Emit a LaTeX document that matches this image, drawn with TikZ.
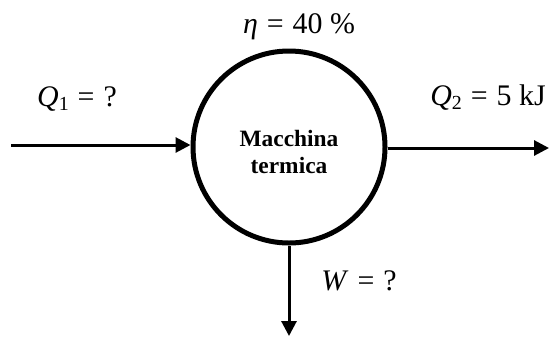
\documentclass[tikz,border=0pt]{standalone}
\usepackage{fontspec}
\setmainfont{Liberation Serif}
\usetikzlibrary{arrows.meta, positioning}

\newcommand{\heatsub}[2]{\textit{#1}\raisebox{-0.3ex}{\fontsize{20}{20}\selectfont #2}}
\newcommand{\eqsign}{\hspace{0.3em}=\hspace{0.3em}}

\begin{document}
\begin{tikzpicture}[
    x=1bp, y=-1bp,
    engine/.style={
        draw,
        circle,
        line width=5bp,
        minimum size=192bp,
        inner sep=0pt
    },
    enginetext/.style={
        align=center,
        inner sep=0pt,
        font=\fontsize{23.5}{28}\selectfont\bfseries
    },
    flow/.style={
        -{Triangle[length=15bp,width=15bp]},
        line width=3bp
    },
    lbl/.style={
        anchor=base,
        font=\fontsize{30}{34}\selectfont
    }
]
    \useasboundingbox (0,0) rectangle (550,337);

    % Engine
    \node[engine] (engine) at (289,147) {};
    \node[enginetext] (name) at ([yshift=-5bp]engine.center) {Macchina\\termica};

    % Flow ends
    \coordinate (in) at (11,145);
    \coordinate (out) at (549,148);
    \coordinate (work) at (289,336);

    % Flows
    \draw[flow] (in) -- (in -| engine.west);
    \draw[flow] (engine.east |- out) -- (out);
    \draw[flow] (engine.south) -- (work);

    % Labels
    \node[lbl] (eta) at (299,33) {\textit{η}\eqsign 40 \%};
    \node[lbl] (q1) at (77,106) {\heatsub{Q}{1}\eqsign ?};
    \node[lbl] (q2) at (488,105) {\heatsub{Q}{2}\eqsign 5 kJ};
    \node[lbl] (w) at (359,290) {\textit{W}\eqsign ?};

\end{tikzpicture}
\end{document}
